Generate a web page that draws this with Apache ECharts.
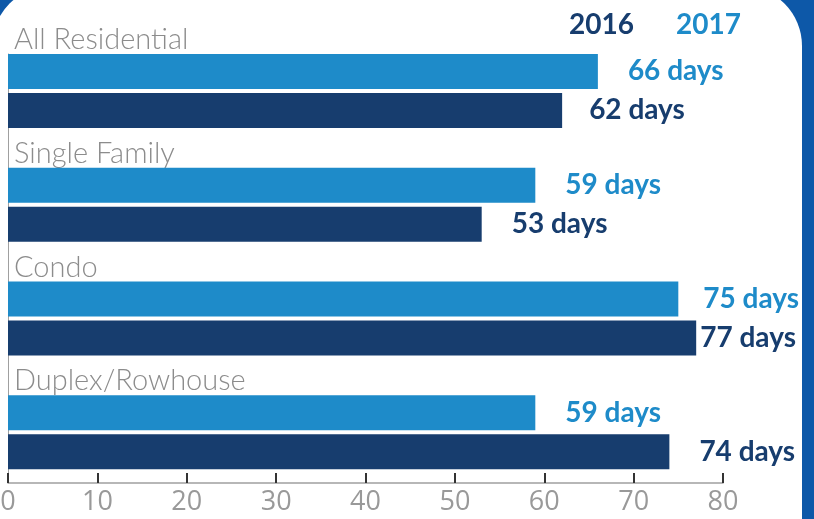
<!DOCTYPE html>
<html>
<head>
<meta charset="utf-8">
<script src="https://cdn.jsdelivr.net/npm/echarts@6/dist/echarts.min.js"></script>
<style>
html,body{margin:0;padding:0;background:#0d58a8;}
#chart{width:814px;height:519px;}
</style>
</head>
<body>
<div id="chart"></div>
<script>
// ---- data ----
const categories = ['All Residential', 'Single Family', 'Condo', 'Duplex/Rowhouse'];
const days2017 = [66, 59, 75, 59];
const days2016 = [62, 53, 77, 74];
const seriesNames = ['2016', '2017'];
const xMin = 0, xMax = 80, xStep = 10;

// ---- styling (kept separate from data) ----
const C2017 = '#1e8bc9';
const C2016 = '#173d6e';
const labelDist2017 = {2: 25};
const labelDist2016 = {0: 27, 2: 4};

function items(values, distMap) {
  return values.map((v, i) => distMap[i] != null ? {value: v, label: {distance: distMap[i]}} : v);
}

const valueLabel = (color) => ({
  show: true,
  position: 'right',
  distance: 30,
  formatter: '{c} days',
  color: color,
  fontFamily: 'Lato',
  fontWeight: 'bold',
  fontSize: 28
});

const chart = echarts.init(document.getElementById('chart'));
chart.setOption({
  backgroundColor: '#0d58a8',
  animation: false,
  graphic: [{
    type: 'rect',
    z: -10,
    silent: true,
    shape: {x: -8, y: -14, width: 810, height: 620, r: 60},
    style: {fill: '#ffffff'}
  }],
  legend: {
    left: 559,
    top: 6,
    itemWidth: 0,
    itemHeight: 0,
    itemGap: 37,
    icon: 'none',
    selectedMode: false,
    data: [
      {name: seriesNames[0], textStyle: {color: C2016}},
      {name: seriesNames[1], textStyle: {color: C2017}}
    ],
    textStyle: {fontFamily: 'Lato', fontWeight: 'bold', fontSize: 28}
  },
  grid: [
    {left: 8, right: 91, top: 28, bottom: 36, containLabel: false, outerBoundsMode: 'none'},
    {left: 8, right: 91, top: 54, bottom: 36, containLabel: false, outerBoundsMode: 'none'}
  ],
  xAxis: [{
    type: 'value',
    gridIndex: 0,
    min: xMin,
    max: xMax,
    interval: xStep,
    axisLine: {show: true, lineStyle: {color: '#a0a0a0', width: 1.5}},
    axisTick: {show: true, inside: true, length: 10, lineStyle: {color: '#333', width: 2}},
    splitLine: {show: false},
    axisLabel: {color: '#999', fontFamily: 'Open Sans', fontSize: 27, margin: 6}
  }, {
    type: 'value',
    gridIndex: 1,
    min: xMin,
    max: xMax,
    show: false
  }],
  yAxis: [{
    type: 'category',
    gridIndex: 0,
    inverse: true,
    data: categories,
    axisLine: {show: false},
    axisTick: {show: false},
    axisLabel: {
      inside: true,
      interval: 0,
      margin: 6,
      align: 'left',
      verticalAlign: 'bottom',
      lineHeight: 90,
      color: '#8c8c8c',
      fontFamily: 'Lato',
      fontWeight: 300,
      fontSize: 29
    }
  }, {
    type: 'category',
    gridIndex: 1,
    inverse: true,
    data: categories,
    axisLine: {show: true, lineStyle: {color: '#a0a0a0', width: 1}},
    axisTick: {show: false},
    axisLabel: {show: false}
  }],
  series: [
    {
      name: 'spacer',
      type: 'bar',
      barWidth: 10.8,
      barGap: '11.43%',
      barCategoryGap: 0,
      data: [],
      silent: true
    },
    {
      name: seriesNames[1],
      type: 'bar',
      barWidth: 35,
      barGap: '11.43%',
      itemStyle: {color: C2017},
      label: valueLabel(C2017),
      data: items(days2017, labelDist2017)
    },
    {
      name: seriesNames[0],
      type: 'bar',
      barWidth: 35,
      barGap: '11.43%',
      itemStyle: {color: C2016},
      label: valueLabel(C2016),
      data: items(days2016, labelDist2016)
    }
  ]
});
</script>
</body>
</html>
